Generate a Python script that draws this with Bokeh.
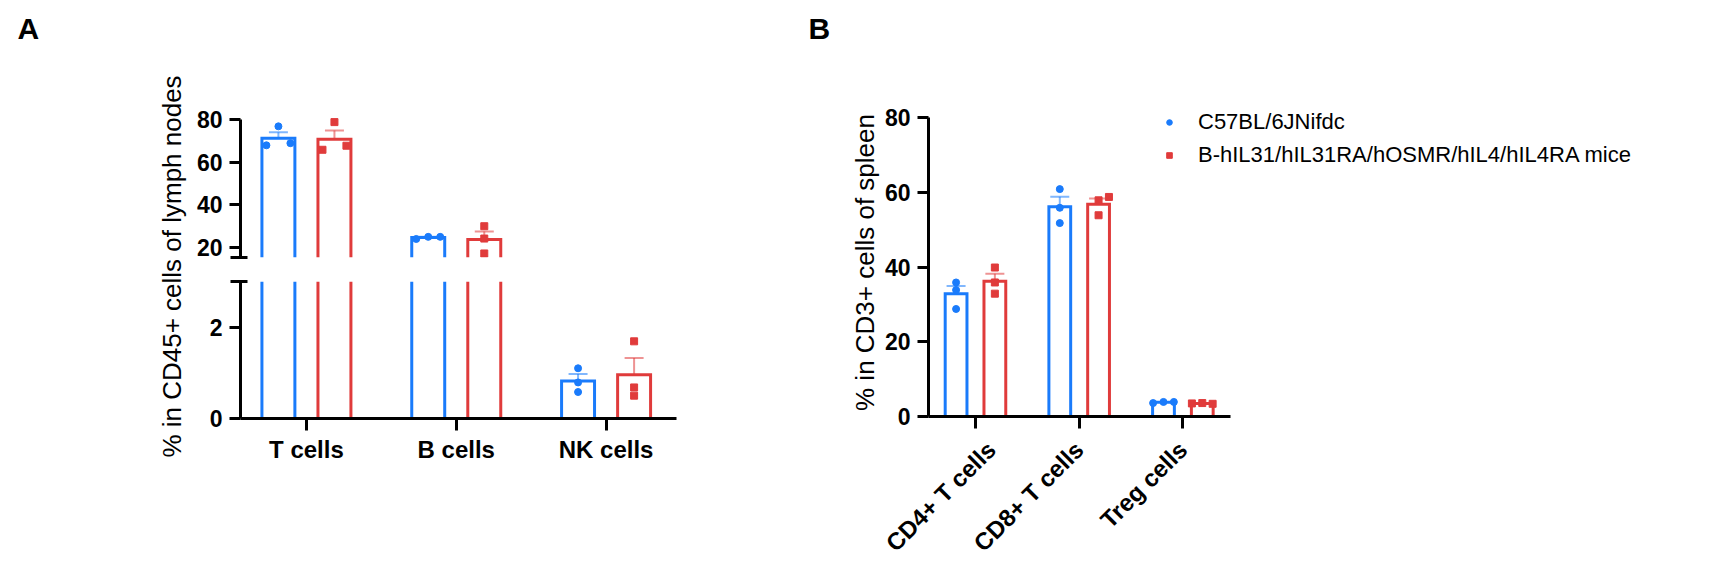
import math
import numpy as np
from bokeh.plotting import figure
from bokeh.models import (Range1d, FixedTicker, ColumnDataSource, Whisker, TeeHead,
                          Legend, LegendItem)
from bokeh.layouts import row, column
from bokeh.embed import file_html
from bokeh.resources import INLINE
from bokeh.core.properties import value

# ---------------- data ----------------
cats_A = ["T cells", "B cells", "NK cells"]
wt_A = [[76.9, 68.0, 69.0], [24.0, 25.0, 25.0], [1.10, 0.79, 0.58]]
tg_A = [[78.9, 65.9, 67.8], [30.0, 24.2, 17.2], [1.69, 0.68, 0.50]]

cats_B = ["CD4+ T cells", "CD8+ T cells", "Treg cells"]
wt_B = [[35.9, 33.9, 28.8], [60.9, 55.9, 51.8], [3.6, 3.9, 3.9]]
tg_B = [[39.9, 35.9, 32.9], [58.8, 57.9, 53.9], [3.5, 3.6, 3.4]]

groups = ["C57BL/6JNifdc", "B-hIL31/hIL31RA/hOSMR/hIL4/hIL4RA mice"]
ylabel_A = "% in CD45+ cells of lymph nodes"
ylabel_B = "% in CD3+ cells of spleen"
ticks_A_upper = [20, 40, 60, 80]
ticks_A_lower = [0, 2]
ticks_B = [0, 20, 40, 60, 80]

# ---------------- layout / style constants ----------------
BLUE = "#1A7BFB"
RED = "#E03B3B"
FONT = "Liberation Sans"
OFFSET = 0.187
BW_A = 0.22
BW_B = 0.21
jit_A_wt = [[0, -0.08, 0.08], [-0.08, 0, 0.08], [0, 0, 0]]
jit_A_tg = [[0, -0.08, 0.08], [0, 0, 0], [0, 0, 0]]
jit_B_wt = [[0, 0, 0], [0, 0, 0], [-0.1, 0, 0.1]]
jit_B_tg = [[0, 0, 0], [0.1, 0, 0], [-0.1, 0, 0.1]]
A_BREAK = 15.3
A_TOP = 82
A_LOW_TOP = 3.0
B_X0, B_X1 = -0.453, 2.459      # extent of panel B's x axis
B_PX_PER_UNIT = 103.7
B_FRAME_W = 712                  # frame reaches under the legend
B_Y_PX_PER_UNIT = 3.733
B_FRAME_TOP = 88                 # frame reaches above the legend
B_Y_TOP = 80 + (117.3 - B_FRAME_TOP) / B_Y_PX_PER_UNIT
H = 575
TICK_FS = "23px"


def style_axis(ax, size=TICK_FS):
    ax.axis_line_width = 3
    ax.axis_line_color = "black"
    ax.major_tick_line_width = 3
    ax.major_tick_line_color = "black"
    ax.major_tick_out = 11
    ax.major_tick_in = 0
    ax.minor_tick_line_width = 3
    ax.minor_tick_line_color = "black"
    ax.minor_tick_out = 10
    ax.minor_tick_in = 7
    ax.major_label_text_font = FONT
    ax.major_label_text_font_style = "bold"
    ax.major_label_text_font_size = size
    ax.major_label_text_color = "black"
    ax.major_label_standoff = 7


def base_fig(**kw):
    p = figure(output_backend="svg", toolbar_location=None, **kw)
    p.outline_line_color = None
    p.background_fill_color = "white"
    p.border_fill_color = "white"
    p.grid.visible = False
    return p


def add_series(p, vals, offset, color, marker, ylo, yhi, jit, bw):
    vals = np.array(vals, dtype=float)
    means = vals.mean(axis=1)
    sems = vals.std(axis=1, ddof=1) / np.sqrt(vals.shape[1])
    xs = np.arange(len(vals)) + offset
    # open-bottomed bar outlines (so a broken axis leaves the bars open)
    lx, ly = [], []
    for x, m in zip(xs, means):
        xl, xr = x - bw / 2, x + bw / 2
        if m <= ylo:
            continue
        if m >= yhi:
            lx += [[xl, xl], [xr, xr]]
            ly += [[ylo, yhi], [ylo, yhi]]
        else:
            lx.append([xl, xl, xr, xr])
            ly.append([ylo, m, m, ylo])
    if lx:
        p.multi_line(lx, ly, line_color=color, line_width=3, line_join="miter")
    mask = (means > ylo) & (means < yhi)
    if mask.any():
        src = ColumnDataSource(dict(base=xs[mask], lower=means[mask],
                                    upper=(means + sems)[mask]))
        w = Whisker(source=src, base="base", lower="lower", upper="upper",
                    dimension="height", line_color=color, line_alpha=0.55,
                    line_width=2, lower_head=None,
                    upper_head=TeeHead(size=19, line_color=color,
                                       line_alpha=0.55, line_width=2))
        p.add_layout(w)
    px, py = [], []
    for i, rv in enumerate(vals):
        for j, v in enumerate(rv):
            if ylo <= v <= yhi:
                px.append(xs[i] + jit[i][j])
                py.append(v)
    return p.scatter(px, py, marker=marker, size=7, color=color)


# ---------------- left label strip (A) ----------------
pL = base_fig(x_range=Range1d(0, 190), y_range=Range1d(H, 0), width=190, height=H,
              min_border=0, x_axis_location=None, y_axis_location=None)
pL.text(x=[17], y=[11], text=["A"], text_font=value(FONT), text_font_size="30px",
        text_font_style="bold", text_align="left", text_baseline="top", text_color="black")
pL.text(x=[171.5], y=[266], text=[ylabel_A], angle=math.pi / 2, text_font=value(FONT),
        text_font_size="26px", text_align="center", text_baseline="middle",
        text_color="black")

# ---------------- panel A (broken axis) ----------------
xr_A = Range1d(-0.44, 2.47)
pAt = base_fig(x_range=xr_A, y_range=Range1d(A_BREAK, A_TOP), width=510, height=269,
               min_border_left=50, min_border_right=24, min_border_top=115,
               min_border_bottom=12, x_axis_location=None)
pAb = base_fig(x_range=xr_A, y_range=Range1d(0, A_LOW_TOP), width=510, height=H - 269,
               min_border_left=50, min_border_right=24, min_border_top=12,
               min_border_bottom=157)

for p, lo, hi in ((pAt, A_BREAK, A_TOP), (pAb, 0, A_LOW_TOP)):
    add_series(p, wt_A, -OFFSET, BLUE, "circle", lo, hi, jit_A_wt, BW_A)
    add_series(p, tg_A, OFFSET, RED, "square", lo, hi, jit_A_tg, BW_A)

style_axis(pAt.yaxis[0])
pAt.yaxis[0].ticker = FixedTicker(ticks=ticks_A_upper, minor_ticks=[A_BREAK + 0.05])
pAt.yaxis[0].bounds = (A_BREAK, 80)

style_axis(pAb.yaxis[0])
pAb.yaxis[0].ticker = FixedTicker(ticks=ticks_A_lower, minor_ticks=[A_LOW_TOP - 0.005])
style_axis(pAb.xaxis[0], "24px")
pAb.xaxis[0].ticker = FixedTicker(ticks=list(range(len(cats_A))))
pAb.xaxis[0].major_label_overrides = {i: c for i, c in enumerate(cats_A)}
pAb.xaxis[0].major_tick_out = 12
pAb.xaxis[0].major_label_standoff = 5

# ---------------- middle strip (B letter and B's y title) ----------------
pM = base_fig(x_range=Range1d(0, 180), y_range=Range1d(H, 0), width=180, height=H,
              min_border=0, x_axis_location=None, y_axis_location=None)
pM.text(x=[108], y=[11], text=["B"], text_font=value(FONT), text_font_size="30px",
        text_font_style="bold", text_align="left", text_baseline="top", text_color="black")
pM.text(x=[164], y=[262], text=[ylabel_B], angle=math.pi / 2, text_font=value(FONT),
        text_font_size="26px", text_align="center", text_baseline="middle",
        text_color="black")

# ---------------- panel B ----------------
pB = base_fig(x_range=Range1d(B_X0, B_X0 + B_FRAME_W / B_PX_PER_UNIT),
              y_range=Range1d(0, B_Y_TOP),
              width=48 + B_FRAME_W + 10, height=H,
              min_border_left=48, min_border_right=10, min_border_top=B_FRAME_TOP,
              min_border_bottom=159)
rB1 = add_series(pB, wt_B, -OFFSET, BLUE, "circle", 0, B_Y_TOP, jit_B_wt, BW_B)
rB2 = add_series(pB, tg_B, OFFSET, RED, "square", 0, B_Y_TOP, jit_B_tg, BW_B)

style_axis(pB.yaxis[0])
pB.yaxis[0].ticker = FixedTicker(ticks=ticks_B)
pB.yaxis[0].bounds = (0, 80)

style_axis(pB.xaxis[0], "24px")
pB.xaxis[0].bounds = (B_X0, B_X1)
pB.xaxis[0].ticker = FixedTicker(ticks=list(range(len(cats_B))))
pB.xaxis[0].major_label_overrides = {i: c for i, c in enumerate(cats_B)}
pB.xaxis[0].major_label_orientation = math.pi / 4
pB.xaxis[0].major_tick_out = 12
pB.xaxis[0].major_label_standoff = 17

legend = Legend(items=[LegendItem(label=groups[0], renderers=[rB1]),
                       LegendItem(label=groups[1], renderers=[rB2])],
                location=(234, 248), padding=0, margin=0, spacing=7,
                glyph_width=14, glyph_height=14, label_standoff=22, label_height=20,
                label_text_font=FONT, label_text_font_size="22px",
                label_text_color="black", background_fill_alpha=0,
                border_line_alpha=0)
pB.add_layout(legend)

layout = row(column(pL), column(pAt, pAb), column(pM), pB)

with open("out.html", "w") as f:
    f.write(file_html(layout, INLINE))
